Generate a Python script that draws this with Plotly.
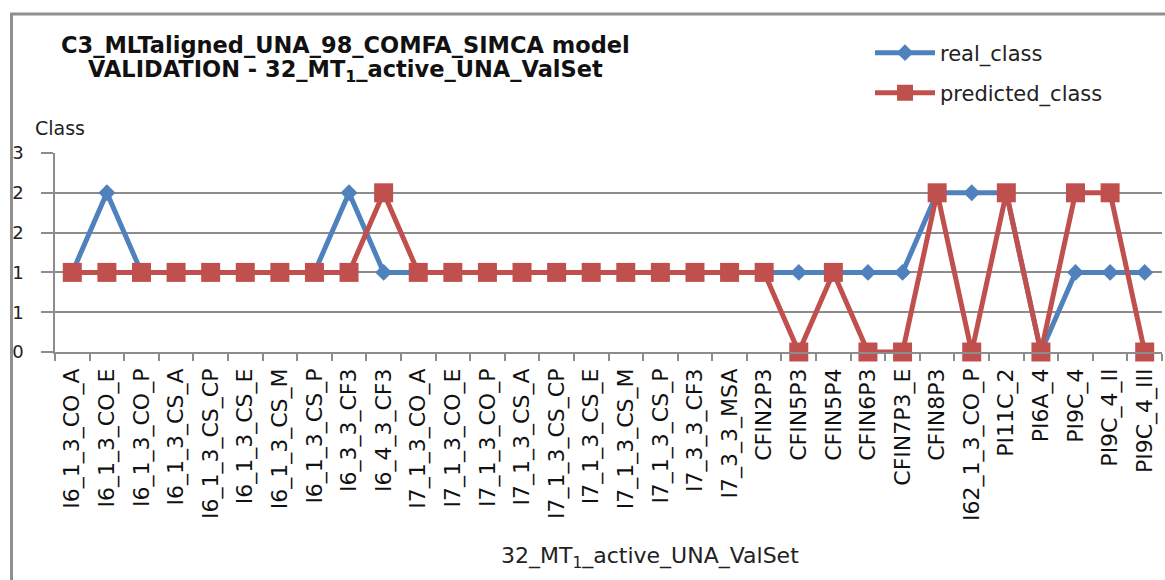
import plotly.graph_objects as go

# Validation set compounds (x-axis categories)
categories = [
    "I6_1_3_CO_A", "I6_1_3_CO_E", "I6_1_3_CO_P", "I6_1_3_CS_A", "I6_1_3_CS_CP",
    "I6_1_3_CS_E", "I6_1_3_CS_M", "I6_1_3_CS_P", "I6_3_3_CF3", "I6_4_3_CF3",
    "I7_1_3_CO_A", "I7_1_3_CO_E", "I7_1_3_CO_P", "I7_1_3_CS_A", "I7_1_3_CS_CP",
    "I7_1_3_CS_E", "I7_1_3_CS_M", "I7_1_3_CS_P", "I7_3_3_CF3", "I7_3_3_MSA",
    "CFIN2P3", "CFIN5P3", "CFIN5P4", "CFIN6P3", "CFIN7P3_E", "CFIN8P3",
    "I62_1_3_CO_P", "PI11C_2", "PI6A_4", "PI9C_4", "PI9C_4_II", "PI9C_4_III",
]

real_class = [1, 2, 1, 1, 1, 1, 1, 1, 2, 1, 1, 1, 1, 1, 1, 1,
              1, 1, 1, 1, 1, 1, 1, 1, 1, 2, 2, 2, 0, 1, 1, 1]
predicted_class = [1, 1, 1, 1, 1, 1, 1, 1, 1, 2, 1, 1, 1, 1, 1, 1,
                   1, 1, 1, 1, 1, 0, 1, 0, 0, 2, 0, 2, 0, 2, 2, 0]

y_tick_vals = [0, 0.5, 1, 1.5, 2, 2.5]
y_tick_text = ["0", "1", "1", "2", "2", "3"]

BLUE = "#4F81BD"
RED = "#C0504D"
GRID = "#8C8C8C"
FONT = "DejaVu Sans"

# plot area in pixels
W, H = 1165, 580
L, R, T, B = 55, 3, 153, 228
pw, ph = W - L - R, H - T - B


def px(x):
    return (x - L) / pw


def py(y):
    return (H - B - y) / ph


fig = go.Figure()
fig.add_trace(go.Scatter(
    x=categories, y=real_class, name="real_class", mode="lines+markers",
    line=dict(color=BLUE, width=5),
    marker=dict(symbol="diamond", size=13, color=BLUE),
    cliponaxis=False, legend="legend",
))
fig.add_trace(go.Scatter(
    x=categories, y=predicted_class, name="predicted_class", mode="lines+markers",
    line=dict(color=RED, width=5),
    marker=dict(symbol="square", size=19, color=RED),
    cliponaxis=False, legend="legend2",
))

legend_common = dict(
    xanchor="left", yanchor="middle", bgcolor="rgba(0,0,0,0)",
    font=dict(family=FONT, size=21, color="#222222"), itemwidth=60,
)

fig.update_layout(
    width=W, height=H,
    margin=dict(l=L, r=R, t=T, b=B),
    paper_bgcolor="white", plot_bgcolor="white",
    showlegend=True,
    legend=dict(x=px(870), y=py(53), **legend_common),
    legend2=dict(x=px(870), y=py(93), **legend_common),
    xaxis=dict(
        type="category", tickson="boundaries", ticks="outside", ticklen=7,
        tickcolor=GRID, tickwidth=1.5,
        showline=True, linecolor=GRID, linewidth=1.5, showgrid=False,
        tickangle=-90, tickfont=dict(family=FONT, size=22, color="#111111"),
        ticklabelstandoff=6,
        range=[-0.5, len(categories) - 0.5],
    ),
    yaxis=dict(
        range=[0, 2.5], tickvals=y_tick_vals, ticktext=y_tick_text,
        ticks="outside", ticklen=12, tickcolor=GRID, tickwidth=1.5,
        showline=True, linecolor=GRID, linewidth=1.5,
        showgrid=True, gridcolor=GRID, gridwidth=1.5, zeroline=False,
        tickfont=dict(family=FONT, size=18, color="#222222"),
        ticklabelstandoff=14,
    ),
    annotations=[
        dict(text="<b>C3_MLTaligned_UNA_98_COMFA_SIMCA model</b>",
             xref="paper", yref="paper", x=px(345), y=py(45),
             xanchor="center", yanchor="middle", showarrow=False,
             font=dict(family=FONT, size=22.5, color="#111111")),
        dict(text="<b>VALIDATION - 32_MT<sub>1</sub>_active_UNA_ValSet</b>",
             xref="paper", yref="paper", x=px(345), y=py(71),
             xanchor="center", yanchor="middle", showarrow=False,
             font=dict(family=FONT, size=22.5, color="#111111")),
        dict(text="Class", xref="paper", yref="paper", x=px(33), y=py(128),
             xanchor="left", yanchor="middle", showarrow=False,
             font=dict(family=FONT, size=19, color="#222222")),
        dict(text="32_MT<sub>1</sub>_active_UNA_ValSet",
             xref="paper", yref="paper", x=px(650), y=py(557),
             xanchor="center", yanchor="middle", showarrow=False,
             font=dict(family=FONT, size=22, color="#222222")),
    ],
    shapes=[
        dict(type="rect", xref="paper", yref="paper",
             x0=px(11.5), x1=px(1200), y0=py(700), y1=py(14),
             line=dict(color="#8F8F8F", width=3), fillcolor="rgba(0,0,0,0)",
             layer="below"),
    ],
)

fig.write_html("out.html")
